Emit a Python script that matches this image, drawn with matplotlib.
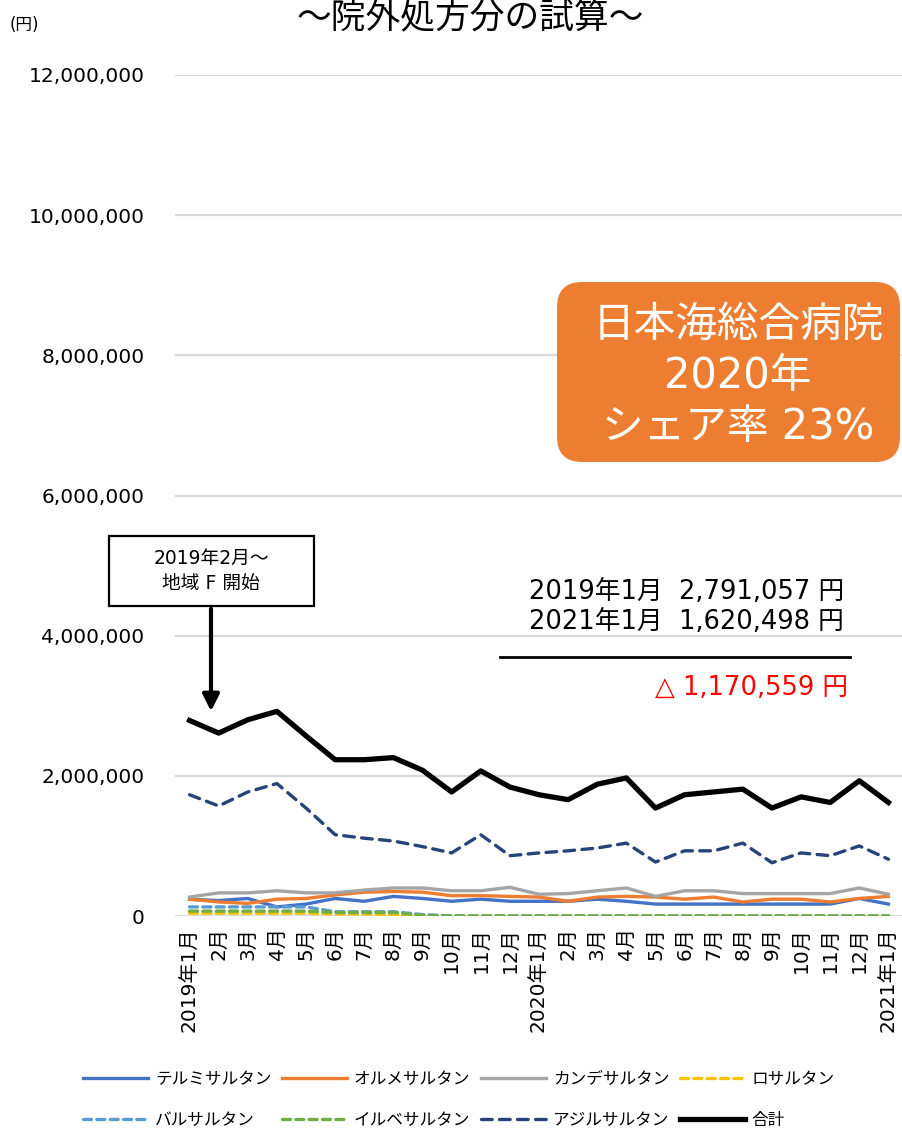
import matplotlib.pyplot as plt
from matplotlib.patches import FancyBboxPatch, Rectangle
from matplotlib.lines import Line2D

plt.rcParams['font.family'] = ['DejaVu Sans', 'Noto Sans CJK JP']

# --- data (円) ---
months = ['2019年1月', '2月', '3月', '4月', '5月', '6月', '7月', '8月', '9月', '10月', '11月', '12月',
          '2020年1月', '2月', '3月', '4月', '5月', '6月', '7月', '8月', '9月', '10月', '11月', '12月',
          '2021年1月']

telmi = [0.24, 0.22, 0.25, 0.13, 0.17, 0.25, 0.21, 0.28, 0.25, 0.21, 0.24, 0.21,
         0.21, 0.21, 0.24, 0.21, 0.17, 0.17, 0.17, 0.17, 0.17, 0.17, 0.17, 0.25, 0.17]
olme = [0.24, 0.20, 0.18, 0.24, 0.25, 0.30, 0.34, 0.35, 0.34, 0.29, 0.29, 0.28,
        0.27, 0.21, 0.27, 0.28, 0.27, 0.24, 0.27, 0.20, 0.24, 0.24, 0.20, 0.25, 0.28]
cande = [0.27, 0.33, 0.33, 0.36, 0.33, 0.33, 0.37, 0.40, 0.40, 0.36, 0.36, 0.41,
         0.31, 0.32, 0.36, 0.40, 0.28, 0.36, 0.36, 0.32, 0.32, 0.32, 0.32, 0.40, 0.31]
losa = [0.04, 0.04, 0.04, 0.04, 0.04, 0.03, 0.03, 0.02, 0.00, 0.00, 0.00, 0.00,
        0.00, 0.00, 0.00, 0.00, 0.00, 0.00, 0.00, 0.00, 0.00, 0.00, 0.00, 0.00, 0.00]
valsa = [0.13, 0.13, 0.13, 0.13, 0.13, 0.06, 0.06, 0.06, 0.02, 0.00, 0.00, 0.00,
         0.00, 0.00, 0.00, 0.00, 0.00, 0.00, 0.00, 0.00, 0.00, 0.00, 0.00, 0.00, 0.00]
irbe = [0.07, 0.07, 0.07, 0.07, 0.07, 0.05, 0.05, 0.05, 0.01, 0.00, 0.00, 0.00,
        0.00, 0.00, 0.00, 0.00, 0.00, 0.00, 0.00, 0.00, 0.00, 0.00, 0.00, 0.00, 0.00]
azil = [1.73, 1.57, 1.77, 1.89, 1.54, 1.16, 1.11, 1.07, 0.99, 0.90, 1.16, 0.86,
        0.90, 0.93, 0.97, 1.04, 0.77, 0.93, 0.93, 1.04, 0.76, 0.90, 0.86, 1.00, 0.81]
total = [2.79, 2.61, 2.80, 2.92, 2.57, 2.23, 2.23, 2.26, 2.08, 1.77, 2.07, 1.84,
         1.73, 1.66, 1.88, 1.97, 1.54, 1.73, 1.77, 1.81, 1.54, 1.70, 1.62, 1.93, 1.62]

series = [
    ('テルミサルタン', telmi, '#4472C4', '-'),
    ('オルメサルタン', olme, '#ED7D31', '-'),
    ('カンデサルタン', cande, '#A5A5A5', '-'),
    ('ロサルタン', losa, '#FFC000', (0, (2.4, 1.6))),
    ('バルサルタン', valsa, '#5B9BD5', (0, (2.4, 1.6))),
    ('イルベサルタン', irbe, '#70AD47', (0, (2.4, 1.6))),
    ('アジルサルタン', azil, '#264478', (0, (3.2, 2.2))),
]

W, H = 903, 1137
fig = plt.figure(figsize=(W / 100, H / 100), dpi=100)


def fx(px):
    return px / W


def fy(py):
    return 1 - py / H


ax = fig.add_axes([fx(175), fy(916), 1 - fx(175), fy(75) - fy(916)])

x = list(range(len(months)))
lines = {}
for name, vals, col, ls in series:
    lines[name], = ax.plot(x, [v * 1e6 for v in vals], color=col, lw=2.4, ls=ls,
                           dash_capstyle='round', label=name)
lines['合計'], = ax.plot(x, [v * 1e6 for v in total], color='black', lw=3.8, label='合計')

ax.set_xlim(-0.5, len(months) - 0.5)
ax.set_ylim(0, 12e6)
ax.set_yticks(range(0, 12000001, 2000000))
ax.set_yticklabels([f'{v:,}' for v in range(0, 12000001, 2000000)], fontsize=14.5)
ax.set_xticks(x)
ax.set_xticklabels(months, rotation=90, fontsize=14.5, va='top')
ax.tick_params(length=0, pad=22, axis='y')
ax.tick_params(length=0, pad=8, axis='x')
ax.grid(axis='y', color='#D9D9D9', lw=1.6)
ax.set_axisbelow(True)
for s in ax.spines.values():
    s.set_visible(False)

# title and unit
fig.text(fx(470), fy(19), '～院外処方分の試算～', fontsize=25, ha='center', va='center',
         family='Noto Sans CJK JP')
fig.text(fx(10), fy(25), '(円)', fontsize=12, ha='left', va='center')

# orange box
box = FancyBboxPatch((fx(557), fy(462)), fx(343), fy(282) - fy(462),
                     boxstyle='round,pad=0,rounding_size=0.028',
                     transform=fig.transFigure, facecolor='#ED7D31', edgecolor='none',
                     mutation_aspect=W / H)
fig.patches.append(box)
fig.text(fx(738), fy(376), '日本海総合病院\n2020年\nシェア率 23%', color='white',
         fontsize=30, ha='center', va='center', linespacing=1.28)

# annotation box with arrow
rect = Rectangle((fx(109), fy(606)), fx(205), fy(536) - fy(606), transform=fig.transFigure,
                 facecolor='white', edgecolor='black', lw=1.6)
fig.patches.append(rect)
fig.text(fx(211), fy(571), '2019年2月～\n地域 F 開始', fontsize=13.5, ha='center', va='center',
         linespacing=1.45)
fig.add_artist(plt.Annotation('', xy=(fx(211), fy(714)), xytext=(fx(211), fy(606)),
                              xycoords='figure fraction', textcoords='figure fraction',
                              arrowprops=dict(arrowstyle='-|>,head_width=0.5,head_length=1.0',
                                              color='black', lw=3)))

# difference text
fig.text(fx(844), fy(592), '2019年1月  2,791,057 円', fontsize=18.5, ha='right', va='center')
fig.text(fx(844), fy(622), '2021年1月  1,620,498 円', fontsize=18.5, ha='right', va='center')
fig.add_artist(Line2D([fx(500), fx(850)], [fy(657), fy(657)], color='black', lw=2,
                      transform=fig.transFigure))
fig.text(fx(848), fy(688), '△ 1,170,559 円', fontsize=18.5, ha='right', va='center', color='red')

# legend (column-major order so rows read like the original)
order = ['テルミサルタン', 'バルサルタン', 'オルメサルタン', 'イルベサルタン',
         'カンデサルタン', 'アジルサルタン', 'ロサルタン', '合計']
fig.legend([lines[k] for k in order], order, loc='center', ncol=4,
           bbox_to_anchor=(fx(459), fy(1100)), frameon=False,
           prop={'family': 'Noto Sans CJK JP', 'size': 12},
           handlelength=3.9, handletextpad=0.4, columnspacing=0.65, labelspacing=1.45)

fig.savefig('out.png', dpi=100)
